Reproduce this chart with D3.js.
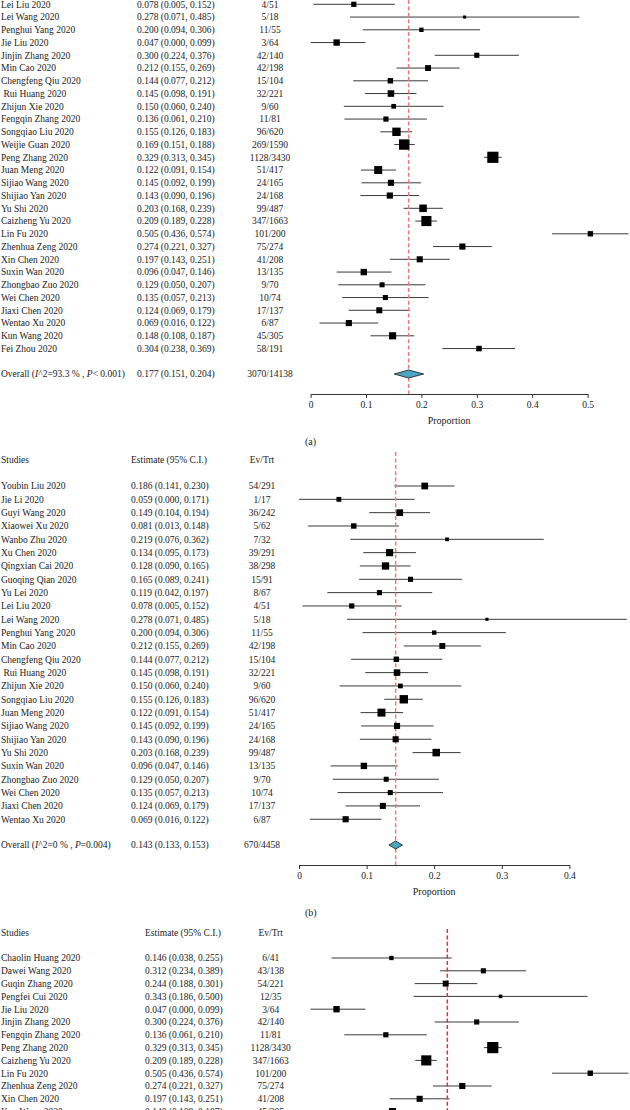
<!DOCTYPE html>
<html><head><meta charset="utf-8">
<script src="https://cdn.jsdelivr.net/npm/d3@7"></script>
<style>
html,body{margin:0;padding:0;background:#fff;}
svg{display:block;}
text{font-family:"Liberation Serif","DejaVu Serif",serif;fill:#222;white-space:pre;}
</style></head><body>
<svg id="chart" width="630" height="1110"></svg>
<script>
// ---------- Panel (a) ----------
const studiesA = ["Lei Liu 2020","Lei Wang 2020","Penghui Yang 2020","Jie Liu 2020","Jinjin Zhang 2020","Min Cao 2020","Chengfeng Qiu 2020"," Rui Huang 2020","Zhijun Xie 2020","Fengqin Zhang 2020","Songqiao Liu 2020","Weijie Guan 2020","Peng Zhang 2020","Juan Meng 2020","Sijiao Wang 2020","Shijiao Yan 2020","Yu Shi 2020","Caizheng Yu 2020","Lin Fu 2020","Zhenhua Zeng 2020","Xin Chen 2020","Suxin Wan 2020","Zhongbao Zuo 2020","Wei Chen 2020","Jiaxi Chen 2020","Wentao Xu 2020","Kun Wang 2020","Fei Zhou 2020"];
const estA = [0.078,0.278,0.200,0.047,0.300,0.212,0.144,0.145,0.150,0.136,0.155,0.169,0.329,0.122,0.145,0.143,0.203,0.209,0.505,0.274,0.197,0.096,0.129,0.135,0.124,0.069,0.148,0.304];
const loA  = [0.005,0.071,0.094,0.000,0.224,0.155,0.077,0.098,0.060,0.061,0.126,0.151,0.313,0.091,0.092,0.090,0.168,0.189,0.436,0.221,0.143,0.047,0.050,0.057,0.069,0.016,0.108,0.238];
const hiA  = [0.152,0.485,0.306,0.099,0.376,0.269,0.212,0.191,0.240,0.210,0.183,0.188,0.345,0.154,0.199,0.196,0.239,0.228,0.574,0.327,0.251,0.146,0.207,0.213,0.179,0.122,0.187,0.369];
const evA  = [4,5,11,3,42,42,15,32,9,11,96,269,1128,51,24,24,99,347,101,75,41,13,9,10,17,6,45,58];
const trtA = [51,18,55,64,140,198,104,221,60,81,620,1590,3430,417,165,168,487,1663,200,274,208,135,70,74,137,87,305,191];
const overallA = [0.177,0.151,0.204];
const overallCountA = [3070,14138];
const statsA = ["93.3 % , ", "< 0.001)"];
const ticksA = [0,0.1,0.2,0.3,0.4,0.5];

// ---------- Panel (b) ----------
const studiesB = ["Youbin Liu 2020","Jie Li 2020","Guyi Wang 2020","Xiaowei Xu 2020","Wanbo Zhu 2020","Xu Chen 2020","Qingxian Cai 2020","Guoqing Qian 2020","Yu Lei 2020","Lei Liu 2020","Lei Wang 2020","Penghui Yang 2020","Min Cao 2020","Chengfeng Qiu 2020"," Rui Huang 2020","Zhijun Xie 2020","Songqiao Liu 2020","Juan Meng 2020","Sijiao Wang 2020","Shijiao Yan 2020","Yu Shi 2020","Suxin Wan 2020","Zhongbao Zuo 2020","Wei Chen 2020","Jiaxi Chen 2020","Wentao Xu 2020"];
const estB = [0.186,0.059,0.149,0.081,0.219,0.134,0.128,0.165,0.119,0.078,0.278,0.200,0.212,0.144,0.145,0.150,0.155,0.122,0.145,0.143,0.203,0.096,0.129,0.135,0.124,0.069];
const loB  = [0.141,0.000,0.104,0.013,0.076,0.095,0.090,0.089,0.042,0.005,0.071,0.094,0.155,0.077,0.098,0.060,0.126,0.091,0.092,0.090,0.168,0.047,0.050,0.057,0.069,0.016];
const hiB  = [0.230,0.171,0.194,0.148,0.362,0.173,0.165,0.241,0.197,0.152,0.485,0.306,0.269,0.212,0.191,0.240,0.183,0.154,0.199,0.196,0.239,0.146,0.207,0.213,0.179,0.122];
const evB  = [54,1,36,5,7,39,38,15,8,4,5,11,42,15,32,9,96,51,24,24,99,13,9,10,17,6];
const trtB = [291,17,242,62,32,291,298,91,67,51,18,55,198,104,221,60,620,417,165,168,487,135,70,74,137,87];
const overallB = [0.143,0.133,0.153];
const overallCountB = [670,4458];
const statsB = ["0 % , ", "=0.004)"];
const ticksB = [0,0.1,0.2,0.3,0.4];

// ---------- Panel (c) ----------
const studiesC = ["Chaolin Huang 2020","Dawei Wang 2020","Guqin Zhang 2020","Pengfei Cui 2020","Jie Liu 2020","Jinjin Zhang 2020","Fengqin Zhang 2020","Peng Zhang 2020","Caizheng Yu 2020","Lin Fu 2020","Zhenhua Zeng 2020","Xin Chen 2020","Kun Wang 2020"];
const estC = [0.146,0.312,0.244,0.343,0.047,0.300,0.136,0.329,0.209,0.505,0.274,0.197,0.148];
const loC  = [0.038,0.234,0.188,0.186,0.000,0.224,0.061,0.313,0.189,0.436,0.221,0.143,0.108];
const hiC  = [0.255,0.389,0.301,0.500,0.099,0.376,0.210,0.345,0.228,0.574,0.327,0.251,0.187];
const evC  = [6,43,54,12,3,42,11,1128,347,101,75,41,45];
const trtC = [41,138,221,35,64,140,81,3430,1663,200,274,208,305];
const overallC = [0.247];
const ticksC = [0,0.1,0.2,0.3,0.4,0.5];

const headers = ["Studies","Estimate (95% C.I.)","Ev/Trt"];

// ---------- drawing ----------
const svg = d3.select("#chart");
const fmt = d3.format(".3f");
const boxSize = d3.scaleSqrt().domain([0,1]).range([0,2.0]); // size from precision 1/CI width
const FS = 9.5;

function panel(o){
  const g = svg.append("g");
  const tmax = o.ticks[o.ticks.length-1];
  const x = d3.scaleLinear().domain([0,tmax]).range([o.x0, o.x0 + o.unit*tmax]);
  const n = o.names.length;
  const y = d3.scaleLinear().domain([0,n-1]).range([o.row0, o.row0 + (n-1)*o.step]);

  if (o.headerY != null){
    g.append("text").attr("x",o.nameX).attr("y",o.headerY).attr("dy","0.35em").attr("font-size",FS).text(headers[0]);
    g.append("text").attr("x",o.estX).attr("y",o.headerY).attr("dy","0.35em").attr("font-size",FS).text(headers[1]);
    g.append("text").attr("x",o.evX).attr("y",o.headerY).attr("dy","0.35em").attr("font-size",FS).attr("text-anchor","middle").text(headers[2]);
  }

  const idx = d3.range(n);
  g.selectAll("line.ci").data(idx).join("line").attr("class","ci")
    .attr("x1",i=>x(o.lo[i])).attr("x2",i=>x(o.hi[i]))
    .attr("y1",i=>y(i)).attr("y2",i=>y(i))
    .attr("stroke","#3a3a3a").attr("stroke-width",1);
  g.append("line").attr("x1",x(o.overall[0])).attr("x2",x(o.overall[0]))
    .attr("y1",o.dashTop).attr("y2",o.dashBottom)
    .attr("stroke",o.dashColor).attr("stroke-width",1.5).attr("stroke-dasharray","4,2.4");
  g.selectAll("rect.box").data(idx).join("rect").attr("class","box")
    .attr("x",i=>x(o.est[i]) - boxSize(1/(o.hi[i]-o.lo[i]))/2)
    .attr("y",i=>y(i) - boxSize(1/(o.hi[i]-o.lo[i]))/2)
    .attr("width",i=>boxSize(1/(o.hi[i]-o.lo[i])))
    .attr("height",i=>boxSize(1/(o.hi[i]-o.lo[i])))
    .attr("fill","#000");
  g.selectAll("text.nm").data(idx).join("text").attr("class","nm")
    .attr("x",o.nameX).attr("y",i=>y(i)).attr("dy","0.35em").attr("font-size",FS)
    .text(i=>o.names[i]);
  g.selectAll("text.es").data(idx).join("text").attr("class","es")
    .attr("x",o.estX).attr("y",i=>y(i)).attr("dy","0.35em").attr("font-size",FS)
    .text(i=>`${fmt(o.est[i])} (${fmt(o.lo[i])}, ${fmt(o.hi[i])})`);
  g.selectAll("text.ev").data(idx).join("text").attr("class","ev")
    .attr("x",o.evX).attr("y",i=>y(i)).attr("dy","0.35em").attr("font-size",FS).attr("text-anchor","middle")
    .text(i=>`${o.ev[i]}/${o.trt[i]}`);

  if (o.overallY != null){
    const t = g.append("text").attr("x",o.nameX).attr("y",o.overallY).attr("dy","0.35em").attr("font-size",FS);
    t.append("tspan").text("Overall (");
    t.append("tspan").attr("font-style","italic").text("I");
    t.append("tspan").text("^2=" + o.stats[0]);
    t.append("tspan").attr("font-style","italic").text("P");
    t.append("tspan").text(o.stats[1]);
    g.append("text").attr("x",o.estX).attr("y",o.overallY).attr("dy","0.35em").attr("font-size",FS)
      .text(`${fmt(o.overall[0])} (${fmt(o.overall[1])}, ${fmt(o.overall[2])})`);
    g.append("text").attr("x",o.evX).attr("y",o.overallY).attr("dy","0.35em").attr("font-size",FS).attr("text-anchor","middle")
      .text(`${o.overallCount[0]}/${o.overallCount[1]}`);
    const yc = o.overallY, h = 4;
    g.append("path")
      .attr("d",`M${x(o.overall[1])},${yc} L${x(o.overall[0])},${yc-h} L${x(o.overall[2])},${yc} L${x(o.overall[0])},${yc+h} Z`)
      .attr("fill","#4ba6c4").attr("stroke","#111").attr("stroke-width",0.8);
  }

  if (o.axisY != null){
    const ax = g.append("g").attr("transform",`translate(0,${o.axisY})`)
      .call(d3.axisBottom(x).tickValues(o.ticks).tickSize(4).tickSizeOuter(0).tickPadding(3).tickFormat(d3.format("")));
    ax.select(".domain").attr("stroke","#333");
    ax.selectAll(".tick line").attr("stroke","#333");
    ax.selectAll(".tick text").attr("font-family",'"Liberation Serif","DejaVu Serif",serif').attr("font-size",9.5).attr("fill","#222");
    g.append("text").attr("x",(x(0)+x(tmax))/2).attr("y",o.axisY+26).attr("dy","0.35em")
      .attr("font-size",10).attr("text-anchor","middle").text("Proportion");
    g.append("text").attr("x",o.labelX).attr("y",o.labelY).attr("dy","0.35em").attr("font-size",10).text(o.label);
  }
}

panel({names:studiesA, est:estA, lo:loA, hi:hiA, ev:evA, trt:trtA, overall:overallA, overallCount:overallCountA, stats:statsA, ticks:ticksA,
  x0:310.6, unit:554, row0:4.3, step:12.75, headerY:null, overallY:374, axisY:394,
  nameX:1, estX:137, evX:270, dashTop:0, dashBottom:394, dashColor:"#f07a7a", label:"(a)", labelX:305, labelY:441});

panel({names:studiesB, est:estB, lo:loB, hi:hiB, ev:evB, trt:trtB, overall:overallB, overallCount:overallCountB, stats:statsB, ticks:ticksB,
  x0:299, unit:676, row0:486, step:13.33, headerY:460, overallY:845, axisY:865,
  nameX:1, estX:131, evX:262, dashTop:452, dashBottom:865, dashColor:"#f07a7a", label:"(b)", labelX:305, labelY:912});

panel({names:studiesC, est:estC, lo:loC, hi:hiC, ev:evC, trt:trtC, overall:overallC, ticks:ticksC,
  x0:310.5, unit:554, row0:958, step:12.8, headerY:932.7, overallY:null, axisY:null,
  nameX:1, estX:145, evX:270.7, dashTop:929, dashBottom:1110, dashColor:"#e0302c"});
</script>
</body></html>
